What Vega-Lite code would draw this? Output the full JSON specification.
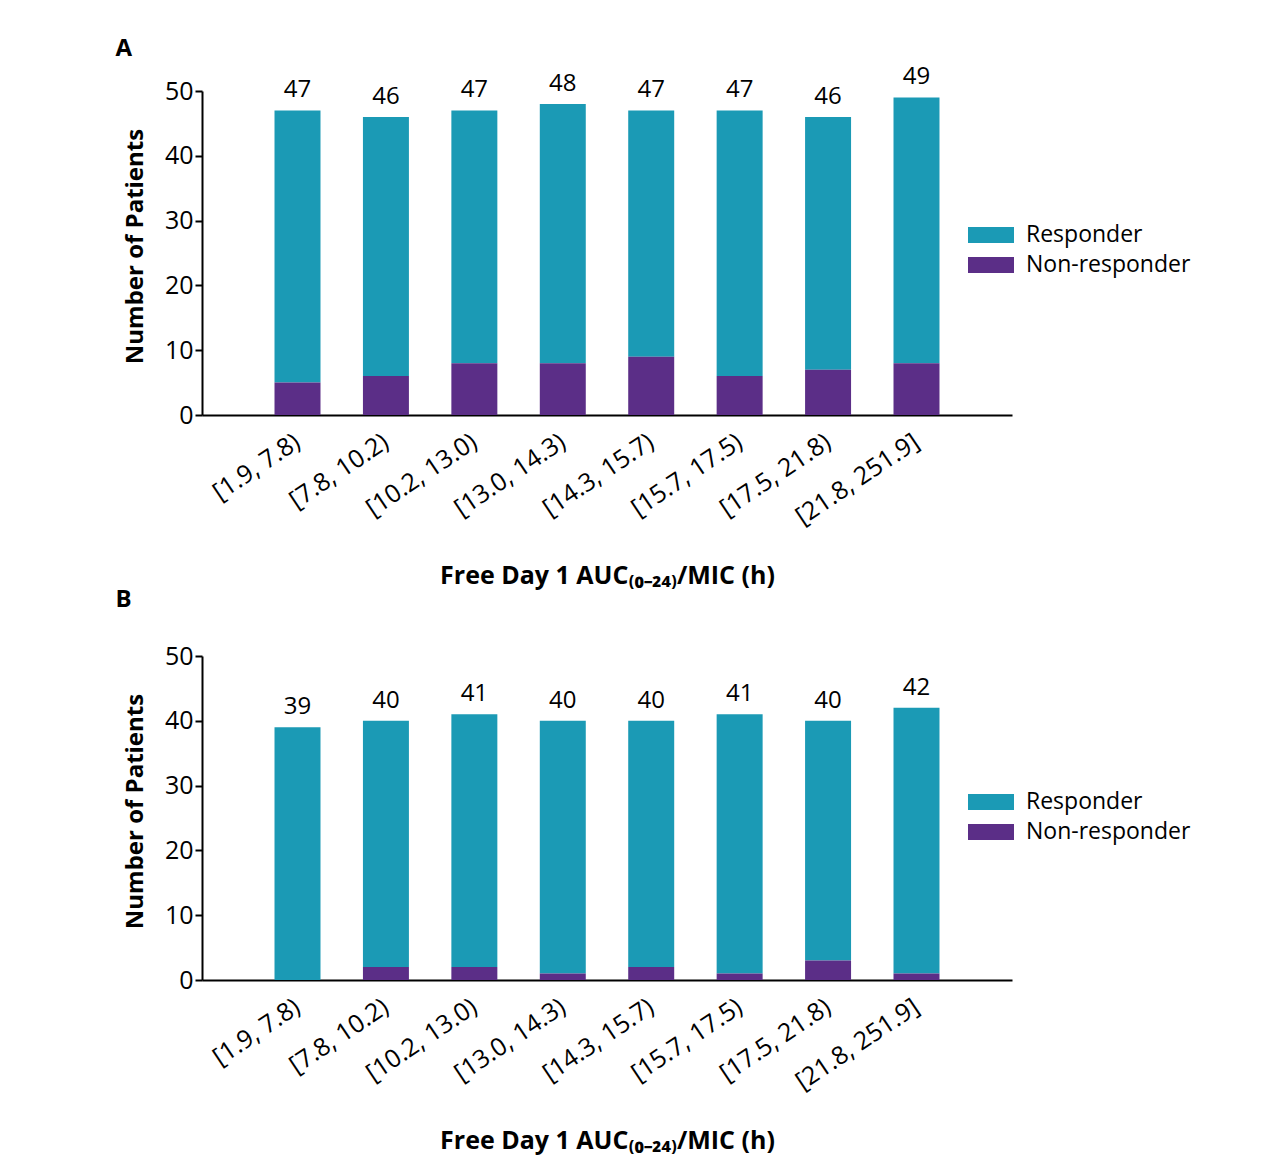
{
  "$schema": "https://vega.github.io/schema/vega-lite/v6.json",
  "padding": {"left": 115, "top": 37, "right": 10, "bottom": 10},
  "background": "white",
  "datasets": {
    "counts": [
      {"panel": "A", "interval": "[1.9, 7.8)", "response": "Responder", "patients": 42},
      {"panel": "A", "interval": "[1.9, 7.8)", "response": "Non-responder", "patients": 5},
      {"panel": "A", "interval": "[7.8, 10.2)", "response": "Responder", "patients": 40},
      {"panel": "A", "interval": "[7.8, 10.2)", "response": "Non-responder", "patients": 6},
      {"panel": "A", "interval": "[10.2, 13.0)", "response": "Responder", "patients": 39},
      {"panel": "A", "interval": "[10.2, 13.0)", "response": "Non-responder", "patients": 8},
      {"panel": "A", "interval": "[13.0, 14.3)", "response": "Responder", "patients": 40},
      {"panel": "A", "interval": "[13.0, 14.3)", "response": "Non-responder", "patients": 8},
      {"panel": "A", "interval": "[14.3, 15.7)", "response": "Responder", "patients": 38},
      {"panel": "A", "interval": "[14.3, 15.7)", "response": "Non-responder", "patients": 9},
      {"panel": "A", "interval": "[15.7, 17.5)", "response": "Responder", "patients": 41},
      {"panel": "A", "interval": "[15.7, 17.5)", "response": "Non-responder", "patients": 6},
      {"panel": "A", "interval": "[17.5, 21.8)", "response": "Responder", "patients": 39},
      {"panel": "A", "interval": "[17.5, 21.8)", "response": "Non-responder", "patients": 7},
      {"panel": "A", "interval": "[21.8, 251.9]", "response": "Responder", "patients": 41},
      {"panel": "A", "interval": "[21.8, 251.9]", "response": "Non-responder", "patients": 8},
      {"panel": "B", "interval": "[1.9, 7.8)", "response": "Responder", "patients": 39},
      {"panel": "B", "interval": "[1.9, 7.8)", "response": "Non-responder", "patients": 0},
      {"panel": "B", "interval": "[7.8, 10.2)", "response": "Responder", "patients": 38},
      {"panel": "B", "interval": "[7.8, 10.2)", "response": "Non-responder", "patients": 2},
      {"panel": "B", "interval": "[10.2, 13.0)", "response": "Responder", "patients": 39},
      {"panel": "B", "interval": "[10.2, 13.0)", "response": "Non-responder", "patients": 2},
      {"panel": "B", "interval": "[13.0, 14.3)", "response": "Responder", "patients": 39},
      {"panel": "B", "interval": "[13.0, 14.3)", "response": "Non-responder", "patients": 1},
      {"panel": "B", "interval": "[14.3, 15.7)", "response": "Responder", "patients": 38},
      {"panel": "B", "interval": "[14.3, 15.7)", "response": "Non-responder", "patients": 2},
      {"panel": "B", "interval": "[15.7, 17.5)", "response": "Responder", "patients": 40},
      {"panel": "B", "interval": "[15.7, 17.5)", "response": "Non-responder", "patients": 1},
      {"panel": "B", "interval": "[17.5, 21.8)", "response": "Responder", "patients": 37},
      {"panel": "B", "interval": "[17.5, 21.8)", "response": "Non-responder", "patients": 3},
      {"panel": "B", "interval": "[21.8, 251.9]", "response": "Responder", "patients": 41},
      {"panel": "B", "interval": "[21.8, 251.9]", "response": "Non-responder", "patients": 1}
    ]
  },
  "config": {
    "font": "Open Sans",
    "view": {"stroke": null},
    "axis": {
      "domainColor": "#000", "domainWidth": 2, "tickColor": "#000", "tickWidth": 2,
      "labelColor": "#000", "titleColor": "#000", "labelFont": "Open Sans", "titleFont": "Open Sans", "grid": false
    },
    "legend": {"labelFont": "Open Sans", "labelColor": "#000"},
    "title": {"font": "Open Sans", "color": "#000"}
  },
  "resolve": {"scale": {"color": "independent"}, "legend": {"color": "independent"}},
  "spacing": -1,
  "vconcat": [
    {
      "title": {"text": "A", "anchor": "start", "fontSize": 24, "fontWeight": "bold", "offset": 4, "dx": -8},
      "width": 810, "height": 324,
      "data": {"name": "counts"},
      "transform": [{"filter": "datum.panel === 'A'"}],
      "layer": [
        {
          "mark": {"type": "bar"},
          "encoding": {
            "x": {"field": "interval", "type": "nominal",
              "sort": ["[1.9, 7.8)", "[7.8, 10.2)", "[10.2, 13.0)", "[13.0, 14.3)", "[14.3, 15.7)", "[15.7, 17.5)", "[17.5, 21.8)", "[21.8, 251.9]"],
              "scale": {"paddingInner": 0.48, "paddingOuter": 0.82},
              "axis": {"title": "Free Day 1 AUC₍₀₋₂₄₎/MIC (h)", "labelAngle": -34, "labelAlign": "right", "labelBaseline": "middle", "ticks": false, "labelPadding": 24, "labelFontSize": 25, "titleFontSize": 25, "titleFontWeight": "bold", "titlePadding": 34}},
            "y": {"field": "patients", "type": "quantitative", "stack": "zero",
              "scale": {"domain": [0, 50], "nice": false},
              "axis": {"title": "Number of Patients", "titleY": 155, "values": [0, 10, 20, 30, 40, 50], "tickSize": 7, "labelFontSize": 25, "labelPadding": 2, "titleFontSize": 24, "titleFontWeight": "bold", "titlePadding": 17}},
            "color": {"field": "response", "type": "nominal",
              "scale": {"domain": ["Responder", "Non-responder"], "range": ["#1b9ab5", "#5b2e87"]},
              "legend": {"orient": "none", "legendX": 766, "legendY": 129, "title": null, "labelFontSize": 23, "labelLimit": 400, "labelOffset": 12, "symbolType": "M-1,-0.35L1,-0.35L1,0.35L-1,0.35Z", "symbolSize": 2116, "symbolStrokeWidth": 0, "clipHeight": 30, "rowPadding": 0}},
            "order": {"field": "response", "sort": "ascending"}
          }
        },
        {
          "transform": [{"aggregate": [{"op": "sum", "field": "patients", "as": "total"}], "groupby": ["interval"]}],
          "mark": {"type": "text", "fontSize": 24, "baseline": "alphabetic", "dy": -13, "color": "#000"},
          "encoding": {
            "x": {"field": "interval", "type": "nominal", "sort": ["[1.9, 7.8)", "[7.8, 10.2)", "[10.2, 13.0)", "[13.0, 14.3)", "[14.3, 15.7)", "[15.7, 17.5)", "[17.5, 21.8)", "[21.8, 251.9]"]},
            "y": {"field": "total", "type": "quantitative"},
            "text": {"field": "total", "type": "quantitative"}
          }
        }
      ]
    },
    {
      "title": {"text": "B", "anchor": "start", "fontSize": 24, "fontWeight": "bold", "offset": 32, "dx": -8},
      "width": 810, "height": 324,
      "data": {"name": "counts"},
      "transform": [{"filter": "datum.panel === 'B'"}],
      "layer": [
        {
          "mark": {"type": "bar"},
          "encoding": {
            "x": {"field": "interval", "type": "nominal",
              "sort": ["[1.9, 7.8)", "[7.8, 10.2)", "[10.2, 13.0)", "[13.0, 14.3)", "[14.3, 15.7)", "[15.7, 17.5)", "[17.5, 21.8)", "[21.8, 251.9]"],
              "scale": {"paddingInner": 0.48, "paddingOuter": 0.82},
              "axis": {"title": "Free Day 1 AUC₍₀₋₂₄₎/MIC (h)", "labelAngle": -34, "labelAlign": "right", "labelBaseline": "middle", "ticks": false, "labelPadding": 24, "labelFontSize": 25, "titleFontSize": 25, "titleFontWeight": "bold", "titlePadding": 34}},
            "y": {"field": "patients", "type": "quantitative", "stack": "zero",
              "scale": {"domain": [0, 50], "nice": false},
              "axis": {"title": "Number of Patients", "titleY": 155, "values": [0, 10, 20, 30, 40, 50], "tickSize": 7, "labelFontSize": 25, "labelPadding": 2, "titleFontSize": 24, "titleFontWeight": "bold", "titlePadding": 17}},
            "color": {"field": "response", "type": "nominal",
              "scale": {"domain": ["Responder", "Non-responder"], "range": ["#1b9ab5", "#5b2e87"]},
              "legend": {"orient": "none", "legendX": 766, "legendY": 131, "title": null, "labelFontSize": 23, "labelLimit": 400, "labelOffset": 12, "symbolType": "M-1,-0.35L1,-0.35L1,0.35L-1,0.35Z", "symbolSize": 2116, "symbolStrokeWidth": 0, "clipHeight": 30, "rowPadding": 0}},
            "order": {"field": "response", "sort": "ascending"}
          }
        },
        {
          "transform": [{"aggregate": [{"op": "sum", "field": "patients", "as": "total"}], "groupby": ["interval"]}],
          "mark": {"type": "text", "fontSize": 24, "baseline": "alphabetic", "dy": -13, "color": "#000"},
          "encoding": {
            "x": {"field": "interval", "type": "nominal", "sort": ["[1.9, 7.8)", "[7.8, 10.2)", "[10.2, 13.0)", "[13.0, 14.3)", "[14.3, 15.7)", "[15.7, 17.5)", "[17.5, 21.8)", "[21.8, 251.9]"]},
            "y": {"field": "total", "type": "quantitative"},
            "text": {"field": "total", "type": "quantitative"}
          }
        }
      ]
    }
  ]
}
